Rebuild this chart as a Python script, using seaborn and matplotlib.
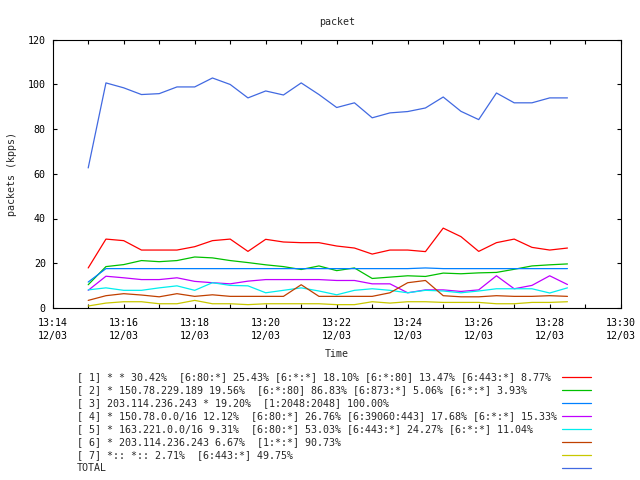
import numpy as np
import matplotlib
matplotlib.use("Agg")
import matplotlib.pyplot as plt
import matplotlib.dates as mdates
from matplotlib.lines import Line2D
import seaborn as sns
import pandas as pd

# --- data (30 s samples from 13:15:00 to 13:28:30) ---
times = pd.date_range("2023-12-03 13:15:00", periods=28, freq="30s")

s1 = [17.9, 30.8, 30.1, 25.9, 25.9, 25.9, 27.4, 30.1, 30.8, 25.3, 30.7, 29.5, 29.2, 29.2,
      27.7, 26.8, 24.1, 25.9, 25.9, 25.2, 35.7, 31.9, 25.3, 29.2, 30.8, 27.1, 25.9, 26.8]
s2 = [10.4, 18.5, 19.4, 21.2, 20.7, 21.2, 22.8, 22.4, 21.2, 20.3, 19.3, 18.5, 17.2, 18.8,
      16.7, 17.9, 13.2, 13.8, 14.4, 14.1, 15.6, 15.3, 15.7, 15.9, 17.3, 18.8, 19.3, 19.7]
s3 = [11.6, 17.6, 17.6, 17.6, 17.6, 17.6, 17.6, 17.6, 17.6, 17.6, 17.6, 17.6, 17.6, 17.6,
      17.6, 17.6, 17.6, 17.6, 17.6, 17.9, 17.6, 17.6, 17.6, 17.6, 17.6, 17.6, 17.6, 17.6]
s4 = [7.9, 14.2, 13.5, 12.7, 12.7, 13.5, 11.9, 11.3, 10.8, 12.0, 12.7, 12.7, 12.7, 12.7,
      12.3, 12.3, 10.8, 10.8, 6.8, 8.1, 8.1, 7.4, 8.1, 14.4, 8.6, 10.1, 14.4, 10.5]
s5 = [8.1, 9.0, 7.9, 7.9, 9.0, 9.9, 7.9, 11.3, 10.1, 9.9, 6.8, 7.9, 9.0, 7.6,
      5.9, 7.9, 8.6, 7.9, 6.8, 7.9, 7.6, 6.8, 7.6, 8.6, 8.6, 8.6, 6.7, 9.0]
s6 = [3.4, 5.5, 6.4, 5.8, 5.0, 6.4, 5.2, 5.9, 5.2, 5.2, 5.2, 5.2, 10.4, 5.2,
      5.2, 5.2, 5.2, 6.8, 11.3, 12.3, 5.5, 5.0, 5.0, 5.5, 5.2, 5.2, 5.5, 5.2]
s7 = [0.9, 2.2, 2.8, 2.8, 1.9, 1.9, 3.4, 1.9, 1.9, 1.5, 1.9, 1.9, 1.9, 1.9,
      1.5, 1.5, 2.8, 2.2, 2.8, 2.8, 2.5, 2.5, 2.5, 1.9, 1.9, 2.5, 2.5, 2.8]
total = [62.6, 100.6, 98.4, 95.4, 95.8, 98.8, 98.8, 102.8, 99.9, 93.9, 97.0, 95.2, 100.6, 95.4,
         89.6, 91.7, 85.0, 87.2, 87.8, 89.4, 94.3, 87.9, 84.2, 96.1, 91.7, 91.7, 93.9, 93.9]

labels = [
    "[ 1] * * 30.42%  [6:80:*] 25.43% [6:*:*] 18.10% [6:*:80] 13.47% [6:443:*] 8.77%",
    "[ 2] * 150.78.229.189 19.56%  [6:*:80] 86.83% [6:873:*] 5.06% [6:*:*] 3.93%",
    "[ 3] 203.114.236.243 * 19.20%  [1:2048:2048] 100.00%",
    "[ 4] * 150.78.0.0/16 12.12%  [6:80:*] 26.76% [6:39060:443] 17.68% [6:*:*] 15.33%",
    "[ 5] * 163.221.0.0/16 9.31%  [6:80:*] 53.03% [6:443:*] 24.27% [6:*:*] 11.04%",
    "[ 6] * 203.114.236.243 6.67%  [1:*:*] 90.73%",
    "[ 7] *:: *:: 2.71%  [6:443:*] 49.75%",
    "TOTAL",
]
colors = ["#ff0000", "#00c000", "#0080ff", "#c000ff", "#00eeee", "#c04000", "#c8c800", "#4169e1"]
series = [s1, s2, s3, s4, s5, s6, s7, total]

rows = []
for lab, vals in zip(labels, series):
    for t, v in zip(times, vals):
        rows.append((t, v, lab))
df = pd.DataFrame(rows, columns=["time", "kpps", "series"])

# --- plot ---
sns.set_style("ticks")
plt.rcParams["font.family"] = ["DejaVu Sans Mono"]
plt.rcParams["font.size"] = 7.2

fig = plt.figure(figsize=(6.4, 4.8), dpi=100)
ax = fig.add_axes([52.7 / 640, 1 - 308 / 480, 568 / 640, 268.5 / 480])

sns.lineplot(data=df, x="time", y="kpps", hue="series", hue_order=labels,
             palette=dict(zip(labels, colors)), linewidth=0.9, legend=False, ax=ax)

ax.set_xlim(pd.Timestamp("2023-12-03 13:14:00"), pd.Timestamp("2023-12-03 13:30:00"))
ax.set_ylim(0, 120)
ax.set_yticks(np.arange(0, 121, 20))
ax.xaxis.set_major_locator(mdates.MinuteLocator(byminute=range(0, 60, 2)))
ax.xaxis.set_minor_locator(mdates.MinuteLocator())
ax.xaxis.set_major_formatter(mdates.DateFormatter("%H:%M\n%m/%d"))

for sp in ax.spines.values():
    sp.set_visible(True)
    sp.set_color("black")
    sp.set_linewidth(0.8)
ax.tick_params(which="both", direction="in", length=3, width=0.8, color="black",
               top=True, right=True, labelsize=7.2, labelcolor="black")
ax.tick_params(axis="y", pad=5)
ax.tick_params(axis="x", pad=7.5)
for lbl in ax.get_xticklabels():
    lbl.set_linespacing(1.3)

ax.set_title("packet", fontsize=7.2, pad=10.5)
ax.set_xlabel("Time", fontsize=7.2, labelpad=6)
ax.set_ylabel("packets (kpps)", fontsize=7.2, labelpad=8)

# gnuplot-style key below the plot
for i, (lab, col) in enumerate(zip(labels, colors)):
    y = 1 - (377 + 13 * i) / 480
    fig.text(76.7 / 640, y, lab, fontsize=7.2, va="center", ha="left")
    fig.add_artist(Line2D([562 / 640, 591 / 640], [y, y], transform=fig.transFigure,
                          color=col, linewidth=0.9))

fig.savefig("out.png", dpi=100)
